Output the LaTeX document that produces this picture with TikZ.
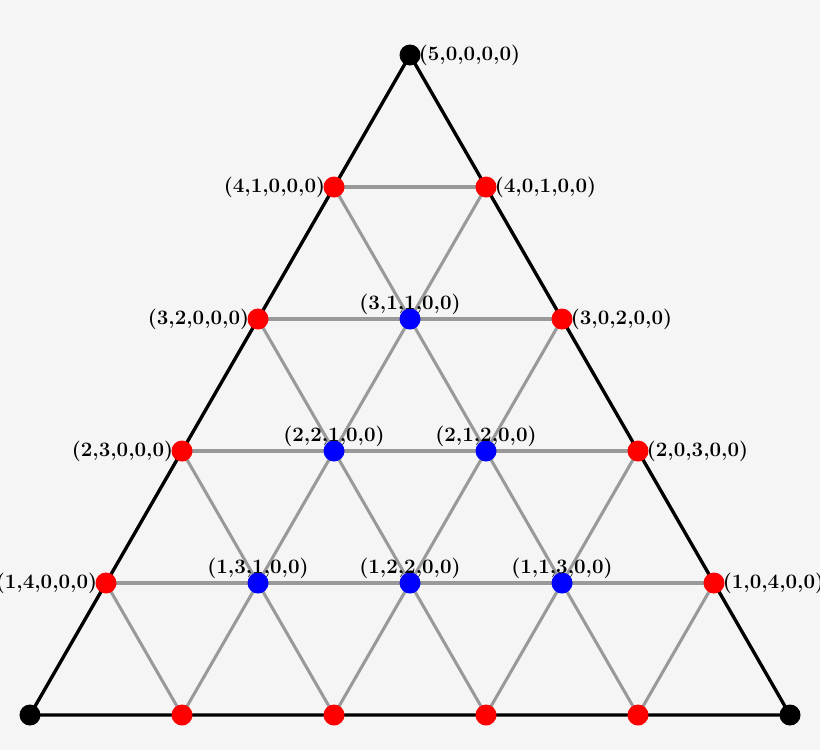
\documentclass[tikz,border=0pt]{standalone}
\begin{document}
\begin{tikzpicture}[x=0.03cm,y=-0.03cm,
  dot/.style={circle,inner sep=0pt,minimum size=0.63cm},
  grid/.style={draw=black!40,line width=2.6pt},
  outer/.style={draw=black,line width=2.8pt},
  lab/.style={font=\fontsize{17.5}{20}\selectfont\bfseries},
  labA/.style={above=0pt},
  labL/.style={left=4pt},
  labR/.style={right=4pt}]
\fill[black!4] (0,0) rectangle (820,750);
\clip (0,0) rectangle (820,750);
\useasboundingbox (0,0) rectangle (820,750);
\foreach \i in {0,...,5}{
  \foreach \j in {0,...,\i}{
    \pgfmathsetmacro{\px}{410+(2*\j-\i)*76}
    \pgfmathsetmacro{\py}{55+\i*132}
    \coordinate (n-\i-\j) at (\px,\py);
  }}
\foreach \i in {0,...,4}{
  \pgfmathtruncatemacro{\k}{\i+1}
  \foreach \j in {0,...,\i}{
    \pgfmathtruncatemacro{\l}{\j+1}
    \draw[grid] (n-\i-\j) -- (n-\k-\j);
    \draw[grid] (n-\i-\j) -- (n-\k-\l);
    \ifnum\j<\i \draw[grid] (n-\i-\j) -- (n-\i-\l); \fi
  }}
\draw[outer] (n-0-0) -- (n-5-0) -- (n-5-5) -- cycle;
\foreach \i in {0,...,5}{
  \foreach \j in {0,...,\i}{
    \pgfmathtruncatemacro{\a}{5-\i}
    \pgfmathtruncatemacro{\b}{\i-\j}
    \def\c{red}
    \ifnum\j=0\else\ifnum\j=\i\else\ifnum\i<5 \def\c{blue}\fi\fi\fi
    \ifnum\i=0 \def\c{black}\fi
    \ifnum\i=5 \ifnum\j=0 \def\c{black}\fi\ifnum\j=5 \def\c{black}\fi\fi
    \node[dot,fill=\c] (d-\i-\j) at (n-\i-\j) {};
    \ifnum\i<5
      \def\pos{labA}
      \ifnum\j=0 \def\pos{labL}\fi
      \ifnum\j=\i \def\pos{labR}\fi
      \ifnum\i=0 \def\pos{labR}\fi
      \node[lab,\pos] at (d-\i-\j) {(\a,\b,\j,0,0)};
    \fi
  }}
\end{tikzpicture}
\end{document}
